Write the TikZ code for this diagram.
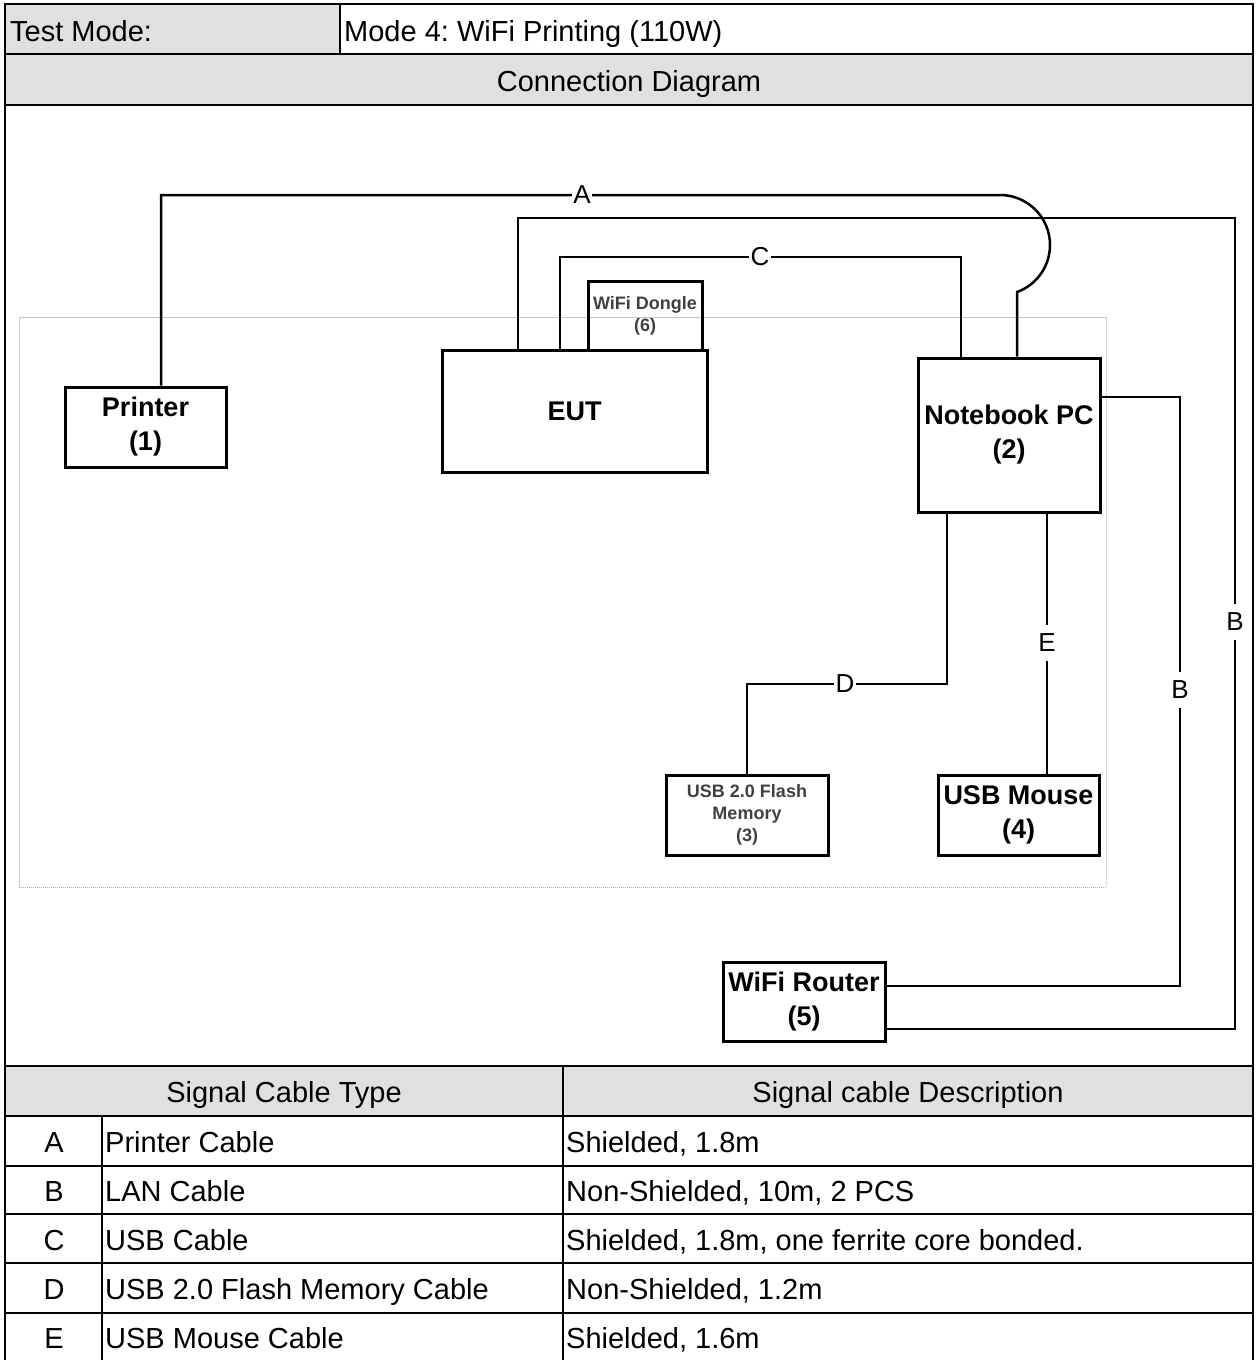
\documentclass[tikz,border=0pt]{standalone}
\usepackage{fontspec}
\setmainfont{Liberation Sans}
\usepackage{tikz}
\frenchspacing
\definecolor{hdrgray}{RGB}{224,224,224}
\tikzset{
  devbox/.style={draw, line width=3, align=center, inner sep=0, font=\bfseries\fontsize{27}{34}\selectfont},
  smallbox/.style={devbox, text=black!75, font=\bfseries\fontsize{18}{22}\selectfont},
  cable/.style={line width=2.5},
  cablelbl/.style={fill=white, inner xsep=1.5, inner ysep=2, font=\fontsize{26}{30}\selectfont},
  vlbl/.style={cablelbl, inner ysep=9},
  tbltext/.style={inner sep=0, font=\fontsize{29}{34}\selectfont},
  tblline/.style={line width=2.5}
}

\begin{document}
\begin{tikzpicture}[x=1pt,y=-1pt]
\useasboundingbox (0,0) rectangle (1256,1360);
\fill[hdrgray] (5,4) rectangle (340,54);
\fill[hdrgray] (5,54) rectangle (1253,105);
\fill[hdrgray] (5,1066) rectangle (1253,1116);
\draw[tblline] (5,4) rectangle (1253,1362);
\draw[tblline] (340,4) -- (340,54);
\draw[tblline] (5,54) -- (1253,54);
\draw[tblline] (5,105) -- (1253,105);
\draw[tblline] (5,1066) -- (1253,1066);
\foreach \y in {1116,1166,1214,1263,1313}
  \draw[tblline] (5,\y) -- (1253,\y);
\draw[tblline] (102,1116) -- (102,1362);
\draw[tblline] (563,1066) -- (563,1362);
\node[tbltext, anchor=base west] (tmlbl) at (10,41) {Test Mode:};
\node[tbltext, anchor=base west] (tmval) at (344,41) {Mode 4: WiFi Printing (110W)};
\node[tbltext, anchor=base] (cdhdr) at (629,91) {Connection Diagram};
\node[tbltext, anchor=base] (typehdr) at (284,1102) {Signal Cable Type};
\node[tbltext, anchor=base] (deschdr) at (908,1102) {Signal cable Description};
\foreach \k/\typ/\desc [count=\i] in {A/Printer Cable/{Shielded, 1.8m},
    B/LAN Cable/{Non-Shielded, 10m, 2 PCS},
    C/USB Cable/{Shielded, 1.8m, one ferrite core bonded.},
    D/USB 2.0 Flash Memory Cable/{Non-Shielded, 1.2m},
    E/USB Mouse Cable/{Shielded, 1.6m}} {
  \node[tbltext, anchor=base] (key\k) at (54,1103+49*\i) {\k};
  \node[tbltext, anchor=base west] (typ\k) at (105,1103+49*\i) {\typ};
  \node[tbltext, anchor=base west] (desc\k) at (566,1103+49*\i) {\desc};
}
%\draw[red] (19,317) rectangle (1106,887);
\draw[gray!45, line width=1] (19,887) -- (19,317) -- (1106,317);
\draw[gray!60, densely dotted, line width=1] (1106,317) -- (1106,887) -- (19,887);
\node[devbox, minimum width=161, minimum height=80] (printer) at (145.5,427) {Printer\\(1)};
\node[smallbox, minimum width=114, minimum height=69] (dongle) at (645,315.5) {WiFi Dongle\\(6)};
\node[devbox, minimum width=265, minimum height=122] (eut) at (574.5,411) {EUT};
\node[devbox, minimum width=182, minimum height=154] (pc) at (1009,435) {Notebook PC\\(2)};
\node[smallbox, minimum width=162, minimum height=80] (flash) at (747,815) {USB 2.0 Flash\\Memory\\(3)};
\node[devbox, minimum width=161, minimum height=80] (mouse) at (1018.5,815) {USB Mouse\\(4)};
\node[devbox, minimum width=162, minimum height=79] (router) at (804,1001.5) {WiFi Router\\(5)};
\draw[cable] ([xshift=15.5]printer.north) |- (1000,195)
  arc[start angle=-90, end angle=70, radius=50] -- ([xshift=8]pc.north);
\draw[cable] ([xshift=-56.5]eut.north) |- (1235,218) |- ([yshift=-27.5]router.east);
\draw[cable] ([yshift=38]pc.east) -| (1180,986) -- ([yshift=15.5]router.east);
\draw[cable] ([xshift=-14.5]eut.north) |- (961,257) -- ([xshift=-48]pc.north);
\draw[cable] ([xshift=-62]pc.south) |- (747,684) -- (flash.north);
\draw[cable] ([xshift=38]pc.south) -- ([xshift=28.5]mouse.north);
\node[cablelbl] (lblA) at (582,195) {A};
\node[vlbl] (lblBo) at (1235,622) {B};
\node[vlbl] (lblBi) at (1180,690) {B};
\node[cablelbl] (lblC) at (760,257) {C};
\node[cablelbl] (lblD) at (845,684) {D};
\node[vlbl] (lblE) at (1047,643) {E};
\end{tikzpicture}
\end{document}
